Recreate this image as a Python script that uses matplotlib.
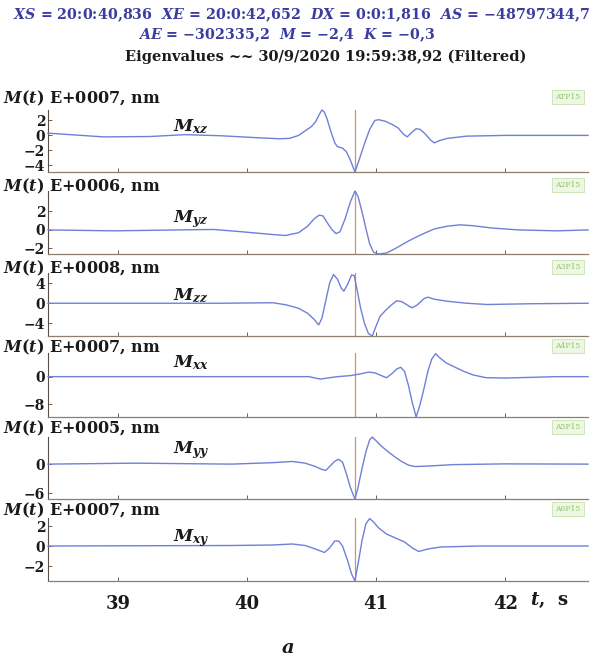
import matplotlib
matplotlib.use("Agg")
import matplotlib.pyplot as plt
from matplotlib.ticker import FixedLocator

plt.rcParams.update({"font.family": "DejaVu Serif", "font.weight": "bold",
    "mathtext.fontset": "custom", "mathtext.it": "DejaVu Serif:italic:bold",
    "mathtext.rm": "DejaVu Serif:bold", "mathtext.bf": "DejaVu Serif:bold",
    "axes.unicode_minus": True})

W, H = 605, 660
INK = "#1a1a1a"; TITLE = "#3c3ca0"; TRACE = "#6f80d8"; AXC = "#8c7f6e"
MARK = "#c9976c"; TAG = "#8fc46a"; TAGBG = "#eef7e4"

XS = 40.836
XLIM = (38.46, 42.64)
XTICKS = [39, 40, 41, 42]

t_xz = [38.46, 38.89, 39.25, 39.52, 39.80, 40.07, 40.25, 40.33, 40.40, 40.45, 40.50, 40.53,
        40.56, 40.58, 40.60, 40.62, 40.65, 40.68, 40.70, 40.74, 40.77, 40.80, 40.836, 40.87,
        40.91, 40.95, 40.99, 41.02, 41.07, 41.12, 41.17, 41.21, 41.24, 41.27, 41.31, 41.34,
        41.38, 41.42, 41.45, 41.49, 41.55, 41.70, 42.00, 42.64]
m_xz = [0.3, -0.2, -0.15, 0.1, -0.05, -0.3, -0.45, -0.4, 0.0, 0.6, 1.2, 1.8,
        2.8, 3.4, 3.1, 2.2, 0.5, -1.0, -1.5, -1.7, -2.2, -3.3, -4.9, -3.2,
        -1.1, 0.8, 2.0, 2.1, 1.9, 1.5, 1.0, 0.2, -0.2, 0.3, 0.9, 0.8,
        0.2, -0.6, -1.0, -0.7, -0.4, -0.1, 0.0, 0.0]

t_yz = [38.46, 38.97, 39.74, 39.96, 40.20, 40.30, 40.40, 40.47, 40.52, 40.56, 40.59, 40.62,
        40.66, 40.69, 40.72, 40.76, 40.80, 40.836, 40.86, 40.89, 40.92, 40.95, 40.98, 41.02,
        41.08, 41.15, 41.25, 41.35, 41.45, 41.55, 41.65, 41.75, 41.90, 42.10, 42.40, 42.64]
m_yz = [0.0, -0.1, 0.05, -0.2, -0.5, -0.6, -0.3, 0.4, 1.2, 1.6, 1.5, 0.8,
        0.0, -0.4, -0.2, 1.2, 3.0, 4.2, 3.6, 2.0, 0.2, -1.5, -2.4, -2.6,
        -2.5, -2.0, -1.2, -0.5, 0.1, 0.4, 0.55, 0.45, 0.2, 0.0, -0.1, 0.0]

t_zz = [38.46, 39.80, 40.20, 40.30, 40.40, 40.47, 40.52, 40.555, 40.58, 40.61, 40.64, 40.67,
        40.70, 40.73, 40.75, 40.78, 40.81, 40.83, 40.85, 40.88, 40.91, 40.94, 40.97, 41.00,
        41.03, 41.07, 41.12, 41.16, 41.20, 41.25, 41.28, 41.32, 41.37, 41.40, 41.45, 41.55,
        41.70, 41.86, 42.20, 42.64]
m_zz = [0.0, 0.0, 0.1, -0.3, -1.0, -2.0, -3.2, -4.3, -3.0, 0.5, 4.0, 5.7,
        4.8, 3.0, 2.4, 3.8, 5.6, 5.5, 3.0, -1.0, -4.0, -6.0, -6.5, -4.5,
        -2.6, -1.5, -0.3, 0.5, 0.3, -0.5, -0.9, -0.3, 0.9, 1.2, 0.8, 0.4,
        0.0, -0.25, -0.1, 0.0]

t_xx = [38.46, 40.48, 40.53, 40.57, 40.62, 40.70, 40.80, 40.88, 40.94, 40.99, 41.04, 41.08,
        41.12, 41.16, 41.19, 41.22, 41.25, 41.28, 41.31, 41.34, 41.37, 41.40, 41.43, 41.46,
        41.49, 41.54, 41.60, 41.68, 41.75, 41.85, 42.00, 42.20, 42.40, 42.64]
m_xx = [0.0, 0.0, -0.4, -0.7, -0.4, 0.0, 0.3, 0.8, 1.3, 1.1, 0.3, -0.3,
        0.8, 2.2, 2.7, 1.5, -2.5, -7.5, -11.6, -8.0, -3.5, 1.5, 5.0, 6.6,
        5.5, 4.0, 2.9, 1.5, 0.5, -0.3, -0.4, -0.2, 0.0, 0.0]

t_yy = [38.46, 39.13, 39.88, 40.20, 40.35, 40.45, 40.52, 40.58, 40.61, 40.64, 40.68, 40.71,
        40.74, 40.77, 40.80, 40.836, 40.86, 40.89, 40.92, 40.95, 40.97, 41.00, 41.05, 41.10,
        41.15, 41.20, 41.25, 41.30, 41.40, 41.60, 42.00, 42.64]
m_yy = [0.0, 0.2, 0.0, 0.3, 0.55, 0.2, -0.4, -1.1, -1.3, -0.5, 0.6, 1.0,
        0.4, -2.0, -4.8, -7.2, -4.8, -1.0, 2.5, 5.0, 5.6, 4.8, 3.5, 2.4,
        1.4, 0.5, -0.2, -0.5, -0.4, -0.1, 0.05, 0.0]

t_xy = [38.46, 39.88, 40.20, 40.35, 40.45, 40.53, 40.60, 40.64, 40.68, 40.71, 40.74, 40.78,
        40.81, 40.836, 40.86, 40.89, 40.92, 40.95, 40.98, 41.02, 41.08, 41.15, 41.22, 41.28,
        41.33, 41.40, 41.50, 41.80, 42.64]
m_xy = [0.0, 0.05, 0.1, 0.2, 0.05, -0.3, -0.65, -0.2, 0.5, 0.5, 0.0, -1.5,
        -2.8, -3.5, -1.8, 0.5, 2.2, 2.75, 2.4, 1.8, 1.2, 0.8, 0.4, -0.2,
        -0.55, -0.3, -0.1, 0.0, 0.0]

names = ["xz", "yz", "zz", "xx", "yy", "xy"]
exps = ["E+0007", "E+0006", "E+0008", "E+0007", "E+0005", "E+0007"]
tags = ["ATP15", "A2P15", "A3P15", "A4P15", "A5P15", "A6P15"]
series = [(t_xz, m_xz), (t_yz, m_yz), (t_zz, m_zz), (t_xx, m_xx), (t_yy, m_yy), (t_xy, m_xy)]
ylims = [(-4.9, 3.4), (-2.6, 4.2), (-6.5, 6.0), (-11.6, 6.8), (-7.2, 5.6), (-3.5, 2.8)]
yticks = [[-4, -2, 0, 2], [-2, 0, 2], [-4, 0, 4], [-8, 0], [-6, 0], [-2, 0, 2]]

# layout in pixels: axes top/bottom, header row, component label row
ax_tb = [(110, 172), (191, 254), (273, 336), (353, 417), (437, 499), (518, 581)]
head_y = [98, 186, 268, 347, 428, 510]
comp_y = [127, 219, 296, 363, 450, 538]

fig = plt.figure(figsize=(W / 100, H / 100), dpi=100)
fig.patch.set_facecolor("white")

fig.text(302 / W, 1 - 15 / H,
         "$XS$ = 20:0:40,836  $XE$ = 20:0:42,652  $DX$ = 0:0:1,816  $AS$ = \u221248797344,7",
         ha="center", va="center", color=TITLE, fontsize=10.3)
fig.text(287 / W, 1 - 35 / H, "$AE$ = \u2212302335,2  $M$ = \u22122,4  $K$ = \u22120,3",
         ha="center", va="center", color=TITLE, fontsize=10.3)
fig.text(326 / W, 1 - 57 / H, "Eigenvalues ~~ 30/9/2020 19:59:38,92 (Filtered)",
         ha="center", va="center", color=INK, fontsize=10.5)

for i in range(6):
    top, bot = ax_tb[i]
    ax = fig.add_axes([48 / W, 1 - bot / H, 540 / W, (bot - top) / H])
    t, m = series[i]
    ax.plot(t, m, color=TRACE, lw=1.0, zorder=3, clip_on=False, solid_joinstyle="round")
    ax.axvline(XS, color=MARK, lw=0.9, zorder=2)
    ax.set_xlim(*XLIM); ax.set_ylim(*ylims[i])
    ax.set_facecolor("none")
    for s in ("top", "right"):
        ax.spines[s].set_visible(False)
    ax.spines["left"].set_color("#5a5048"); ax.spines["bottom"].set_color(AXC)
    ax.spines["left"].set_linewidth(0.8); ax.spines["bottom"].set_linewidth(0.9)
    ax.xaxis.set_major_locator(FixedLocator(XTICKS))
    ax.yaxis.set_major_locator(FixedLocator(yticks[i]))
    ax.tick_params(axis="both", direction="in", length=3, width=0.7, color="#6a6058")
    ax.tick_params(axis="y", labelsize=10, pad=2, labelcolor=INK)
    if i < 5:
        ax.tick_params(axis="x", labelbottom=False)
    else:
        ax.tick_params(axis="x", labelsize=13, pad=10, labelcolor=INK)
    fig.text(3 / W, 1 - head_y[i] / H, "$M(t)$ " + exps[i] + ", nm",
             ha="left", va="center", color=INK, fontsize=11.5)
    fig.text(173 / W, 1 - comp_y[i] / H, "$M_{%s}$" % names[i],
             ha="left", va="center", color=INK, fontsize=12.5)
    fig.text(568 / W, 1 - (head_y[i] - 1) / H, tags[i], ha="center", va="center",
             color=TAG, fontsize=5.5, fontweight="normal",
             bbox=dict(boxstyle="square,pad=0.4", fc=TAGBG, ec="#c8e3b0", lw=0.6))

fig.text(530 / W, 1 - 600 / H, "$t$,  s", ha="left", va="center", color=INK, fontsize=13)
fig.text(288 / W, 1 - 648 / H, "$a$", ha="center", va="center", color=INK, fontsize=14)

fig.savefig("out.png", dpi=100)
